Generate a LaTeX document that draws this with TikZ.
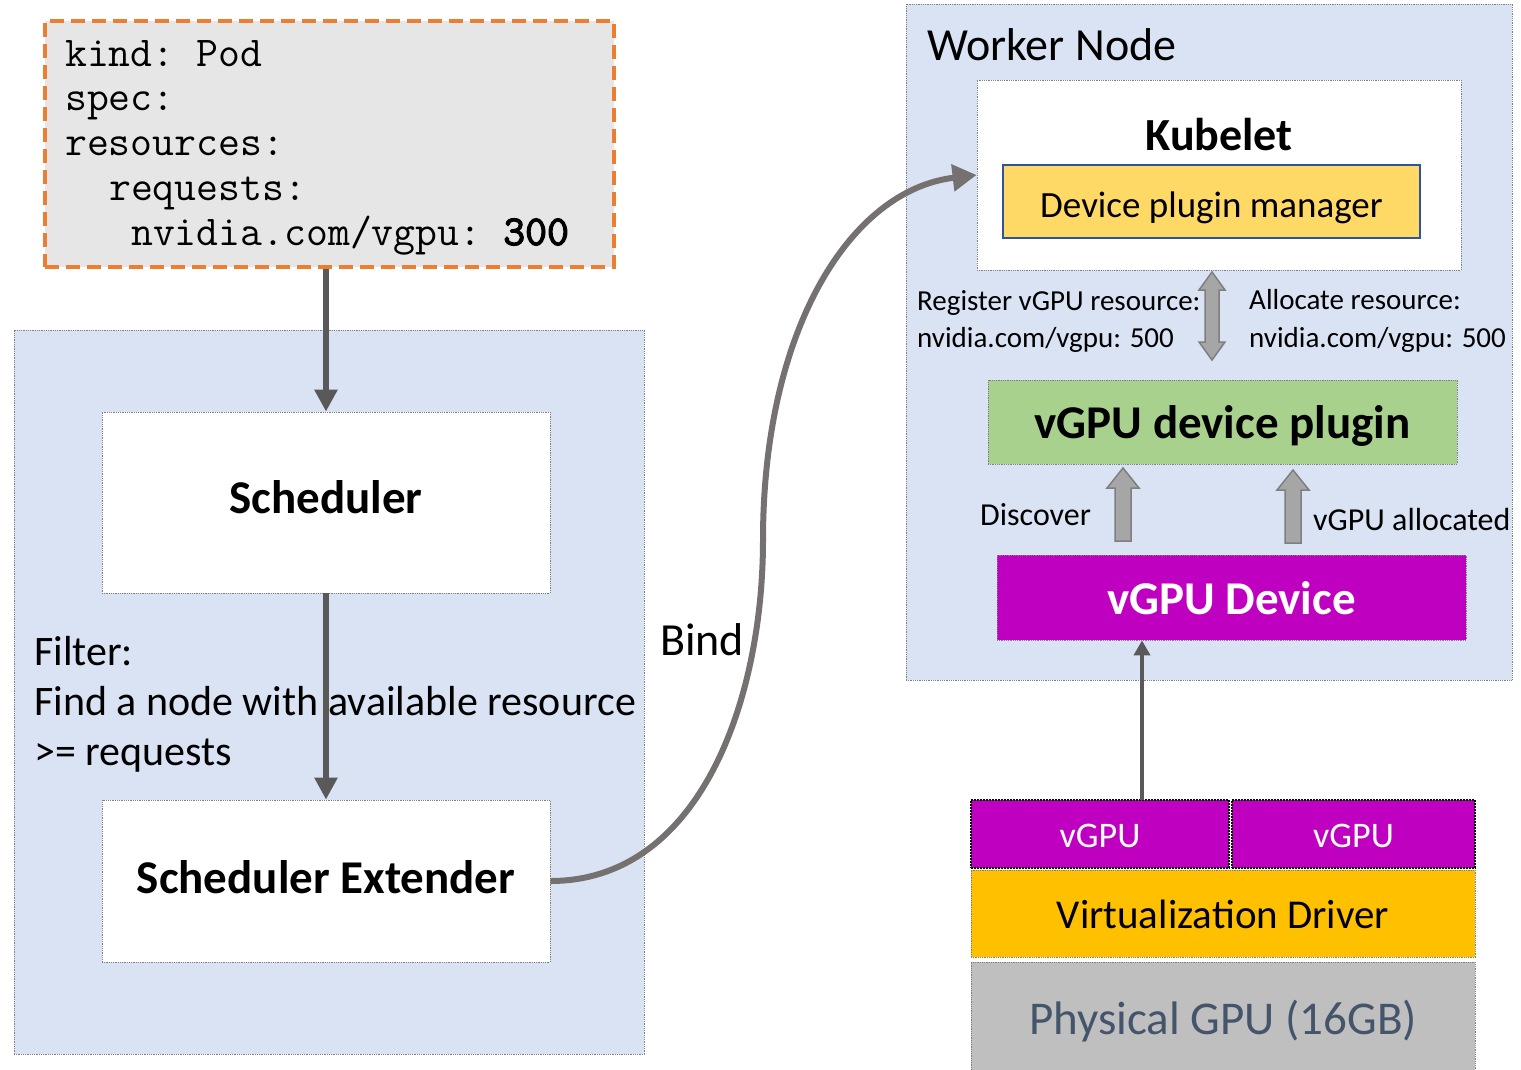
\documentclass[tikz,border=0pt]{standalone}
\usepackage{fontspec}
\setmainfont{Carlito}
\setmonofont{Latin Modern Mono}[AutoFakeBold=3]
\usetikzlibrary{arrows.meta}

\definecolor{panelblue}{HTML}{DAE3F3}
\definecolor{podgray}{HTML}{E7E6E6}
\definecolor{podorange}{HTML}{ED7D31}
\definecolor{darkarrow}{HTML}{595959}
\definecolor{bindgray}{HTML}{767171}
\definecolor{mgryellow}{HTML}{FFD966}
\definecolor{mgrblue}{HTML}{2F5597}
\definecolor{plugingreen}{HTML}{A9D18E}
\definecolor{vgpumagenta}{HTML}{C000C0}
\definecolor{drvorange}{HTML}{FFC000}
\definecolor{physgray}{HTML}{BFBFBF}
\definecolor{physblue}{HTML}{44546A}
\definecolor{blockfill}{HTML}{A6A6A6}
\definecolor{blockedge}{HTML}{7F7F7F}

% upward block arrow: x, tip y, bottom y
\newcommand\blockup[3]{%
  \draw[blockarrow] (#1-8,#3) -- (#1-8,#2+20) -- (#1-16,#2+20) -- (#1,#2)
    -- (#1+16,#2+20) -- (#1+8,#2+20) -- (#1+8,#3) -- cycle;}

\begin{document}
\begin{tikzpicture}[x=1pt,y=-1pt,
  fs/.style={font=\fontsize{#1}{#1}\selectfont},
  box/.style={rectangle, draw=gray, densely dotted, line width=0.8pt, inner sep=0pt},
  lbl/.style={anchor=base west, inner sep=0pt},
  title/.style={anchor=base, inner sep=0pt},
  code/.style={anchor=base west, inner sep=0pt, font=\fontsize{42.5}{45}\selectfont\ttfamily},
  darrow/.style={draw=darkarrow, line width=6pt, -{Triangle[length=22pt,width=22pt]}},
  thinarrow/.style={draw=darkarrow, line width=4pt, -{Triangle[length=15pt,width=16pt]}},
  bindarrow/.style={draw=bindgray, line width=6pt, -{Triangle[length=24pt,width=26pt]}},
  blockarrow/.style={fill=blockfill, draw=blockedge, line width=1.5pt, line join=miter},
]
\clip (0,0) rectangle (1521,1069);
\fill[white] (0,0) rectangle (1521,1069);

% ---------- control plane side ----------
\node[box, fill=panelblue, minimum width=630pt, minimum height=724pt] (cpanel) at (329,692) {};

\node[rectangle, fill=podgray, draw=podorange, line width=4pt,
      dash pattern=on 14pt off 7pt, minimum width=569pt, minimum height=246pt] (pod) at (329.5,144) {};
\node[code] (l1) at (65,66) {kind: Pod};
\node[code] (l2) at (65,110) {spec:};
\node[code] (l3) at (65,155) {resources:};
\node[code] (l4) at (109,200) {requests:};
\node[code] (l5) at (131,245) {nvidia.com/vgpu: \textbf{300}};

\node[box, fill=white, minimum width=448pt, minimum height=181pt] (sched) at (326,502.5) {};
\node[title, fs=47] (schedlbl) at (326,513) {\bfseries Scheduler};
\node[box, fill=white, minimum width=448pt, minimum height=162pt] (ext) at (326,881) {};
\node[title, fs=47] (extlbl) at (326,893) {\bfseries Scheduler Extender};

\node[lbl, fs=42] (f1) at (34,665) {Filter:};
\node[lbl, fs=42] (f2) at (34,715) {Find a node with available resource};
\node[lbl, fs=42] (f3) at (34,765) {>= requests};

\draw[darrow] (pod.south -| sched.north) -- (sched.north);
\draw[darrow] (sched.south) -- (ext.north);

% ---------- worker node ----------
\node[box, fill=panelblue, minimum width=606pt, minimum height=676pt] (worker) at (1209,342) {};
\node[lbl, fs=46] (wtitle) at (927,60) {Worker Node};

\node[box, fill=white, minimum width=484pt, minimum height=190pt] (kubelet) at (1219,175) {};
\node[title, fs=46] (ktitle) at (1219,150) {\bfseries Kubelet};
\node[rectangle, fill=mgryellow, draw=mgrblue, line width=2pt, inner sep=0pt,
      minimum width=417pt, minimum height=73pt] (manager) at (1211.5,201.5) {};
\node[title, fs=37] (mgrlbl) at (1211.5,217) {Device plugin manager};

\node[box, fill=plugingreen, minimum width=469pt, minimum height=84pt] (plugin) at (1222.5,422) {};
\node[title, fs=47] (pluginlbl) at (1222.5,438) {\bfseries vGPU device plugin};
\node[box, fill=vgpumagenta, minimum width=469pt, minimum height=85pt] (device) at (1231.5,597.5) {};
\node[title, fs=47, text=white] (devicelbl) at (1231.5,614) {\bfseries vGPU Device};

% register / allocate exchange
\draw[blockarrow] (1205,360-18) -- (1205,272+18) -- (1199,272+18) -- (1212,272)
  -- (1225,272+18) -- (1219,272+18) -- (1219,360-18) -- (1225,360-18)
  -- (1212,360) -- (1199,360-18) -- cycle;
\node[lbl, fs=29] (reg1) at (917,310) {Register vGPU resource:};
\node[lbl, fs=29] (reg2) at (917,347) {nvidia.com/vgpu: 500};
\node[lbl, fs=29] (al1) at (1249,309) {Allocate resource:};
\node[lbl, fs=29] (al2) at (1249,347) {nvidia.com/vgpu: 500};

% discover / allocated
\blockup{1123}{468}{541}
\blockup{1293}{470}{543}
\node[lbl, fs=32] (disc) at (980,525) {Discover};
\node[lbl, fs=32] (alloc) at (1313,530) {vGPU allocated};

% ---------- GPU stack ----------
\node[rectangle, fill=physgray, draw=gray, densely dotted, line width=0.8pt, inner sep=0pt,
      minimum width=504pt, minimum height=136pt] (phys) at (1223,1030) {};
\node[title, fs=47, text=physblue] (physlbl) at (1223,1034) {Physical GPU (16GB)};
\node[box, fill=drvorange, minimum width=504pt, minimum height=87pt] (driver) at (1223,913.5) {};
\node[title, fs=41] (driverlbl) at (1223,928) {Virtualization Driver};
\node[rectangle, fill=vgpumagenta, draw=black, densely dotted, line width=2pt, inner sep=0pt,
      minimum width=258pt, minimum height=68pt] (vgpu1) at (1100,834) {};
\node[title, fs=36, text=white] (vgpu1lbl) at (1100,847) {vGPU};
\node[rectangle, fill=vgpumagenta, draw=black, densely dotted, line width=2pt, inner sep=0pt,
      minimum width=243pt, minimum height=68pt] (vgpu2) at (1353.5,834) {};
\node[title, fs=36, text=white] (vgpu2lbl) at (1353.5,847) {vGPU};

\coordinate (vsrc) at (1142,800);
\draw[thinarrow] (vsrc) -- (vsrc |- device.south);

% ---------- bind ----------
\draw[bindarrow] (ext.east) .. controls (700,881) and (763,700) .. (763,540)
  .. controls (763,330) and (850,190) .. (kubelet.west);
\node[lbl, fs=46] (bind) at (660,655) {Bind};

\end{tikzpicture}
\end{document}
